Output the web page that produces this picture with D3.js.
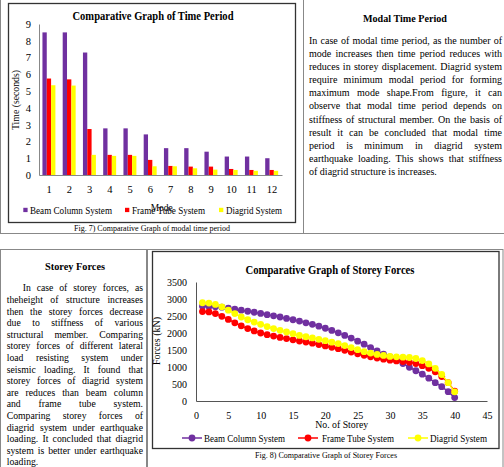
<!DOCTYPE html>
<html>
<head>
<meta charset="utf-8">
<script src="https://cdn.jsdelivr.net/npm/d3@7"></script>
<style>
body { margin: 0; background: #fff; }
text { font-family: "Liberation Serif", "Times New Roman", serif; fill: #000; }
</style>
</head>
<body>
<div class="page"></div>
<script>
// ---- data: modal time period (seconds) ----
const modes = [1, 2, 3, 4, 5, 6, 7, 8, 9, 10, 11, 12];
const beamColumnPeriod = [8.5, 8.5, 7.3, 2.78, 2.78, 2.42, 1.6, 1.6, 1.39, 1.1, 1.1, 1.0];
const frameTubePeriod = [5.75, 5.7, 2.74, 1.2, 1.2, 0.9, 0.54, 0.5, 0.5, 0.36, 0.3, 0.3];
const diagridPeriod = [5.35, 5.33, 1.2, 1.14, 1.14, 0.52, 0.52, 0.4, 0.32, 0.3, 0.25, 0.25];
const timeTicks = [0, 1, 2, 3, 4, 5, 6, 7, 8, 9];

// ---- data: storey forces (kN) ----
const storeys = [1, 2, 3, 4, 5, 6, 7, 8, 9, 10, 11, 12, 13, 14, 15, 16, 17, 18, 19, 20,
  21, 22, 23, 24, 25, 26, 27, 28, 29, 30, 31, 32, 33, 34, 35, 36, 37, 38, 39, 40];
const beamColumnForce = [2790, 2780, 2770, 2760, 2730, 2700, 2670, 2640, 2610, 2575,
  2540, 2505, 2470, 2430, 2390, 2350, 2300, 2255, 2200, 2140,
  2075, 2005, 1930, 1850, 1760, 1670, 1570, 1470, 1380, 1300,
  1200, 1100, 990, 890, 790, 670, 540, 420, 275, 100];
const frameTubeForce = [2630, 2620, 2570, 2490, 2400, 2300, 2210, 2130, 2060, 2000,
  1950, 1910, 1870, 1835, 1800, 1765, 1735, 1700, 1660, 1620,
  1580, 1540, 1490, 1440, 1390, 1345, 1300, 1265, 1230, 1200,
  1180, 1160, 1140, 1100, 1040, 960, 860, 720, 540, 290];
const diagridForce = [2890, 2880, 2840, 2770, 2670, 2570, 2470, 2390, 2320, 2255,
  2190, 2130, 2080, 2030, 1980, 1930, 1890, 1855, 1815, 1775,
  1730, 1690, 1630, 1570, 1510, 1450, 1410, 1370, 1340, 1310,
  1300, 1290, 1280, 1250, 1190, 1090, 960, 780, 540, 270];
const forceTicks = [0, 500, 1000, 1500, 2000, 2500, 3000, 3500];
const storeyTicks = [0, 5, 10, 15, 20, 25, 30, 35, 40, 45];

const seriesNames = ['Beam Column System', 'Frame Tube System', 'Diagrid System'];
const colors = ['#7030A0', '#FF0000', '#FFFF00'];

// ---- page text ----
const modalTitle = 'Modal Time Period';
const modalText = [
  'In case of modal time period, as the number of',
  'mode increases then time period reduces with',
  'reduces in storey displacement. Diagrid system',
  'require minimum modal period for forming',
  'maximum mode shape.From figure, it can',
  'observe that modal time period depends on',
  'stiffness of structural member. On the basis of',
  'result it can be concluded that modal time',
  'period is minimum in diagrid system',
  'earthquake loading. This shows that stiffness',
  'of diagrid structure is increases.'
];
const storeyTitle = 'Storey Forces';
const storeyText = [
  'In case of storey forces, as',
  'theheight of structure increases',
  'then the storey forces decrease',
  'due to stiffness of various',
  'structural member. Comparing',
  'storey forces of different lateral',
  'load resisting system under',
  'seismic loading. It found that',
  'storey forces of diagrid system',
  'are reduces than beam column',
  'and frame tube system.',
  'Comparing storey forces of',
  'diagrid system under earthquake',
  'loading. It concluded that diagrid',
  'system is better under earthquake',
  'loading.'
];

const svg = d3.select('.page').append('svg')
  .attr('width', 504)
  .attr('height', 467);

// page frames
const frame = svg.append('g').attr('stroke', '#888').attr('fill', 'none');
frame.append('line').attr('x1', 0.5).attr('y1', 0).attr('x2', 0.5).attr('y2', 233.5);
frame.append('line').attr('x1', 0).attr('y1', 233.5).attr('x2', 504).attr('y2', 233.5);
frame.append('line').attr('x1', 303.5).attr('y1', 0).attr('x2', 303.5).attr('y2', 233.5);
frame.append('rect').attr('x', 0.5).attr('y', 249.5).attr('width', 502.5).attr('height', 230);
frame.append('line').attr('x1', 147).attr('y1', 249).attr('x2', 147).attr('y2', 467).attr('stroke-width', 2);

// chart boxes
svg.append('rect').attr('x', 8.5).attr('y', 3.5).attr('width', 287).attr('height', 219)
  .attr('fill', 'none').attr('stroke', '#333').attr('stroke-width', 1.3);
svg.append('rect').attr('x', 152.5).attr('y', 251.5).attr('width', 346.5).attr('height', 197)
  .attr('fill', 'none').attr('stroke', '#333').attr('stroke-width', 1.3);

// squeezed text helper (reference font is narrow)
function label(x, y, s, size, width, opts) {
  opts = opts || {};
  const t = svg.append('text')
    .attr('x', x).attr('y', y)
    .attr('text-anchor', opts.anchor || 'middle')
    .style('font-size', size + 'px')
    .style('font-weight', opts.bold ? 'bold' : 'normal')
    .text(s);
  if (width) t.attr('textLength', width).attr('lengthAdjust', 'spacingAndGlyphs');
  if (opts.rotate) t.attr('transform', `rotate(-90, ${x}, ${y})`);
  return t;
}

// justified paragraph: glyphs squeezed so the last line gets its width, word gaps stretched
function paragraph(lines, x0, x1, yFirst, lh, size, lastWidth, indent) {
  const g = svg.append('g');
  const texts = lines.map((s, i) => g.append('text')
    .attr('y', yFirst + i * lh)
    .style('font-size', size + 'px')
    .text(s));
  const nat = texts[texts.length - 1].node().getComputedTextLength();
  const sq = lastWidth / nat;
  g.attr('transform', `translate(${x0},0) scale(${sq},1)`);
  texts.forEach((t, i) => {
    const ind = i === 0 ? indent : 0;
    t.attr('x', ind / sq);
    if (i < lines.length - 1) {
      const L = t.node().getComputedTextLength();
      const n = (lines[i].match(/ /g) || []).length;
      t.style('word-spacing', (((x1 - x0 - ind) / sq - L) / n) + 'px');
    }
  });
}

/* ---------------- Chart 1: bars ---------------- */
const periods = [beamColumnPeriod, frameTubePeriod, diagridPeriod];
const x0 = d3.scaleBand().domain(modes).range([39, 282]);
const x1 = d3.scaleBand().domain([0, 1, 2])
  .range([x0.bandwidth() * 0.17, x0.bandwidth() * 0.81]);
const y1 = d3.scaleLinear().domain([0, 9]).range([175, 24]);

const c1 = svg.append('g');
c1.append('g')
  .attr('transform', 'translate(39,0)')
  .call(d3.axisLeft(y1).tickValues(timeTicks).tickSize(0).tickPadding(8))
  .call(g => g.select('.domain').attr('stroke', '#888'))
  .call(g => g.selectAll('text').style('font-size', '10.5px').style('font-family', '"Liberation Serif", serif'));

const groups = c1.selectAll('g.mode')
  .data(modes)
  .enter().append('g')
  .attr('class', 'mode')
  .attr('transform', d => `translate(${x0(d)},0)`);
groups.selectAll('rect')
  .data((d, i) => periods.map((p, s) => ({ s: s, v: p[i] })))
  .enter().append('rect')
  .attr('x', d => x1(d.s))
  .attr('y', d => y1(d.v))
  .attr('width', x1.bandwidth())
  .attr('height', d => y1(0) - y1(d.v))
  .attr('fill', d => colors[d.s]);

c1.append('g')
  .attr('transform', 'translate(0,175)')
  .call(d3.axisBottom(x0).tickSize(0).tickPadding(11))
  .call(g => g.select('.domain').attr('stroke', '#888'))
  .call(g => g.selectAll('text').style('font-size', '10.5px').style('font-family', '"Liberation Serif", serif'));

label(153, 19.5, 'Comparative Graph of Time Period', 11.5, 161, { bold: true });
label(18.5, 100, 'Time (seconds)', 11, 60, { rotate: true });

// legend
const leg1 = [[23.3, 30, 82], [125, 132, 73], [219, 226, 56]];
leg1.forEach((p, i) => {
  svg.append('rect').attr('x', p[0]).attr('y', 207.8).attr('width', 4.3).attr('height', 4.3).attr('fill', colors[i]);
  label(p[1], 213.5, seriesNames[i], 10.5, p[2], { anchor: 'start' });
});
label(161.7, 210.5, 'Mode', 11, 22);
label(152, 230.5, 'Fig. 7) Comparative Graph of modal time period', 9, 156);

/* ---------------- right panel text ---------------- */
label(405, 22, modalTitle, 11, 84, { bold: true });
paragraph(modalText, 309, 502, 44, 13.1, 11, 128, 0);

/* ---------------- left panel text ---------------- */
label(75, 269.5, storeyTitle, 11, 60, { bold: true });
paragraph(storeyText, 6.7, 143, 291.5, 11.6, 11, 31.6, 16);

/* ---------------- Chart 2: lines ---------------- */
const forces = [beamColumnForce, frameTubeForce, diagridForce];
const x2 = d3.scaleLinear().domain([0, 45]).range([196, 487]);
const y2 = d3.scaleLinear().domain([0, 3500]).range([401, 282]);

const c2 = svg.append('g');
c2.append('g')
  .attr('transform', 'translate(196,0)')
  .call(d3.axisLeft(y2).tickValues(forceTicks).tickFormat(d3.format('d')).tickSize(0).tickPadding(9))
  .call(g => g.select('.domain').attr('stroke', '#555'))
  .call(g => g.selectAll('text').style('font-size', '10px').style('font-family', '"Liberation Serif", serif'));
c2.append('g')
  .attr('transform', 'translate(0,401)')
  .call(d3.axisBottom(x2).tickValues(storeyTicks).tickSize(0).tickPadding(11))
  .call(g => g.select('.domain').attr('stroke', '#555'))
  .call(g => g.selectAll('text').style('font-size', '10px').style('font-family', '"Liberation Serif", serif'));

const line = d3.line().x((d, i) => x2(storeys[i])).y(d => y2(d));
forces.forEach((f, s) => {
  c2.append('path').datum(f)
    .attr('d', line)
    .attr('fill', 'none')
    .attr('stroke', colors[s])
    .attr('stroke-width', 1.5);
  c2.selectAll('circle.s' + s)
    .data(f)
    .enter().append('circle')
    .attr('class', 's' + s)
    .attr('cx', (d, i) => x2(storeys[i]))
    .attr('cy', d => y2(d))
    .attr('r', 3.4)
    .attr('fill', colors[s]);
});

label(330, 273.5, 'Comparative Graph of Storey Forces', 11.5, 169, { bold: true });
label(160, 341, 'Forces (kN)', 11, 48, { rotate: true });
label(341.7, 427.5, 'No. of Storey', 11, 53);

const leg2 = [[182, 204, 81], [298, 322, 72], [408, 430, 57]];
leg2.forEach((p, i) => {
  svg.append('line').attr('x1', p[0]).attr('x2', p[0] + 20).attr('y1', 438).attr('y2', 438)
    .attr('stroke', colors[i]).attr('stroke-width', 1.5);
  svg.append('circle').attr('cx', p[0] + 10).attr('cy', 438).attr('r', 3.4).attr('fill', colors[i]);
  label(p[1], 441.5, seriesNames[i], 10.5, p[2], { anchor: 'start' });
});
label(326, 458, 'Fig. 8) Comparative Graph of Storey Forces', 9, 142);
</script>
</body>
</html>
